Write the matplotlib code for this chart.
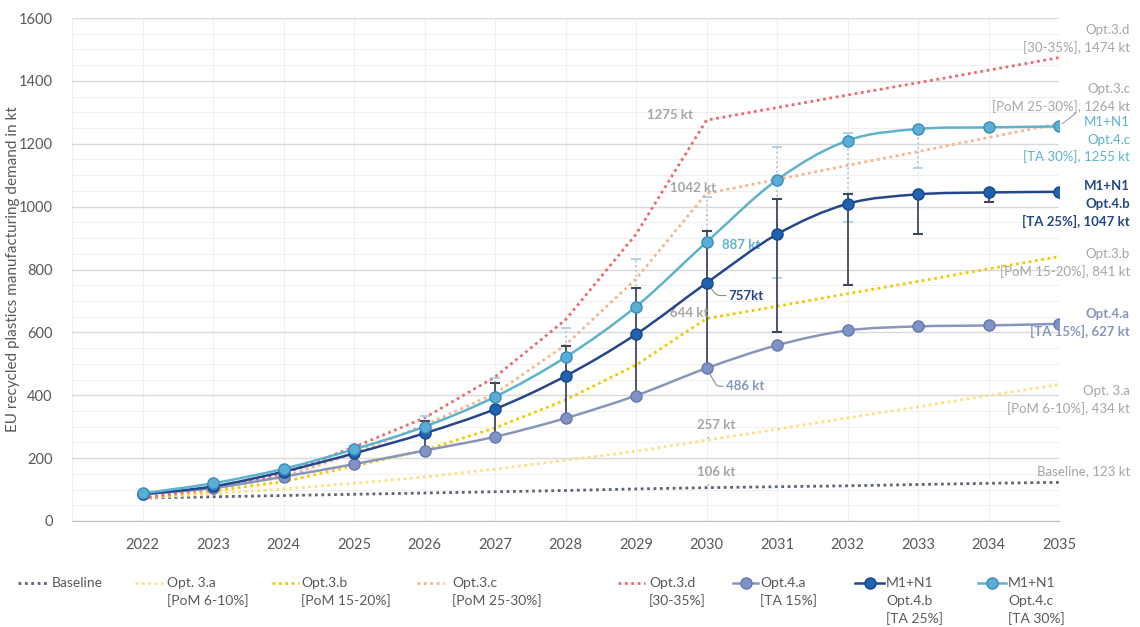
import matplotlib
matplotlib.use("Agg")
import matplotlib.pyplot as plt
from matplotlib.lines import Line2D
from matplotlib.path import Path
from matplotlib.patches import PathPatch
import numpy as np

plt.rcParams['font.family'] = ['Lato', 'DejaVu Sans']

# ---- data (kt) ----
years = [2022, 2023, 2024, 2025, 2026, 2027, 2028, 2029, 2030, 2031, 2032, 2033, 2034, 2035]
baseline = [73, 77, 81, 85, 89, 93, 97, 102, 106, 109, 112, 116, 120, 123]
opt3a = [73, 87, 102, 120, 140, 165, 193, 222, 257, 292, 328, 363, 399, 434]
opt3b = [73, 95, 125, 175, 225, 296, 385, 496, 644, 683, 723, 762, 802, 841]
opt3c = [73, 100, 140, 215, 305, 405, 560, 770, 1042, 1086, 1131, 1175, 1220, 1264]
opt3d = [73, 105, 150, 235, 328, 458, 640, 912, 1275, 1315, 1355, 1394, 1434, 1474]
opt4a = [85, 105, 141, 181, 224, 268, 327, 399, 486, 559, 606, 619, 622, 627]
opt4b = [85, 110, 157, 215, 279, 356, 461, 594, 757, 912, 1009, 1039, 1045, 1047]
opt4c = [88, 120, 166, 228, 300, 395, 521, 682, 887, 1085, 1210, 1247, 1252, 1255]

# uncertainty ranges
opt4b_low = [85, 110, 157, 215, 224, 268, 327, 399, 486, 602, 751, 913, 1014, 1047]
opt4b_high = [85, 110, 157, 215, 318, 440, 557, 742, 922, 1023, 1039, 1039, 1045, 1047]
opt4c_low = [88, 120, 166, 228, 300, 395, 460, 594, 757, 773, 952, 1122, 1252, 1255]
opt4c_high = [88, 120, 166, 240, 335, 455, 615, 833, 1031, 1190, 1234, 1247, 1252, 1255]

yticks = [0, 200, 400, 600, 800, 1000, 1200, 1400, 1600]

# ---- colours ----
C_BASE = '#5B6573'
C_3A = '#FFE080'
C_3B = '#F6C800'
C_3C = '#F7B58C'
C_3D = '#EC6A6E'
C_4A_LINE, C_4A_FACE, C_4A_EDGE = '#8797BC', '#7F93C6', '#6678AE'
C_4B_LINE, C_4B_FACE, C_4B_EDGE = '#24468A', '#1F63B0', '#17488A'
C_4C_LINE, C_4C_FACE, C_4C_EDGE = '#5DB3CB', '#5AAED6', '#3A8CBC'
GREY_TXT = '#A6A6A6'
TICK_TXT = '#595959'

W, H = 1140, 627
fig = plt.figure(figsize=(W / 100, H / 100), dpi=100)
ax = fig.add_axes([72 / W, 1 - 521 / H, (1059 - 72) / W, (521 - 18) / H])

ax.set_xlim(2021, 2035)
ax.set_ylim(0, 1600)
ax.set_yticks(yticks)
ax.set_yticks(np.arange(0, 1601, 50), minor=True)
ax.set_xticks(years)
ax.set_xticks([2021], minor=True)
ax.grid(axis='y', which='major', color='#D9D9D9', lw=1.0, zorder=0)
ax.grid(axis='y', which='minor', color='#F0F0F0', lw=0.8, zorder=0)
ax.grid(axis='x', which='both', color='#F0F0F0', lw=0.8, zorder=0)
for s in ['top', 'right', 'left']:
    ax.spines[s].set_visible(False)
ax.spines['bottom'].set_color('#BFBFBF')
ax.tick_params(axis='both', which='both', length=0, colors=TICK_TXT, labelsize=10.5)
ax.tick_params(axis='x', pad=12)
ax.tick_params(axis='y', pad=14)
ax.set_ylabel('EU recycled plastics manufacturing demand in kt', color=TICK_TXT, fontsize=11)
ax.yaxis.set_label_coords((20 - 72) / (1059 - 72), 0.5)

dot = (0, (1, 1.3))
ax.plot(years, baseline, color=C_BASE, lw=2, ls=dot, zorder=2)
ax.plot(years, opt3a, color=C_3A, lw=2, ls=dot, zorder=2)
ax.plot(years, opt3b, color=C_3B, lw=2, ls=dot, zorder=2)
ax.plot(years, opt3c, color=C_3C, lw=2, ls=dot, zorder=2)
ax.plot(years, opt3d, color=C_3D, lw=2, ls=dot, zorder=2)

# uncertainty bars
v4c = np.array(opt4c)
eb = ax.errorbar(years, opt4c, yerr=[v4c - np.array(opt4c_low), np.array(opt4c_high) - v4c],
                 fmt='none', ecolor='#A8CBE2', elinewidth=1.3, capsize=3.5, capthick=1.2, zorder=3)
eb[2][0].set_linestyle(':')
v4b = np.array(opt4b)
ax.errorbar(years, opt4b, yerr=[v4b - np.array(opt4b_low), np.array(opt4b_high) - v4b],
            fmt='none', ecolor='#3E4A5C', elinewidth=1.3, capsize=3.5, capthick=1.5, zorder=3)


def smooth_path(xs, ys):
    """Cubic Bezier path through the points (smoothed chart line)."""
    pts = np.column_stack([xs, ys]).astype(float)
    n = len(pts)
    verts = [pts[0]]
    codes = [Path.MOVETO]
    for i in range(n - 1):
        p0 = pts[i - 1] if i > 0 else pts[i]
        p1, p2 = pts[i], pts[i + 1]
        p3 = pts[i + 2] if i + 2 < n else pts[i + 1]
        c1 = p1 + (p2 - p0) / 6.0
        c2 = p2 - (p3 - p1) / 6.0
        verts += [c1, c2, p2]
        codes += [Path.CURVE4] * 3
    return Path(verts, codes)


for vals, lc, fc, ec in [(opt4a, C_4A_LINE, C_4A_FACE, C_4A_EDGE),
                         (opt4b, C_4B_LINE, C_4B_FACE, C_4B_EDGE),
                         (opt4c, C_4C_LINE, C_4C_FACE, C_4C_EDGE)]:
    ax.add_patch(PathPatch(smooth_path(years, vals), fill=False, edgecolor=lc, lw=1.8, zorder=4))
    ax.plot(years, vals, ls='none', marker='o', ms=8, mfc=fc, mec=ec, mew=1.0, zorder=5)

# ---- point labels around 2030 ----
i30 = years.index(2030)
ax.annotate(f'{opt3d[i30]} kt', (2030, opt3d[i30]), xytext=(-10, 4), textcoords='offset points',
            ha='right', va='center', color=GREY_TXT, fontsize=9.5, fontweight='bold')
ax.annotate(f'{opt3c[i30]} kt', (2030, opt3c[i30]), xytext=(-26, 4), textcoords='offset points',
            ha='left', va='center', color=GREY_TXT, fontsize=9.5, fontweight='bold')
ax.annotate(f'{opt3b[i30]} kt', (2030, opt3b[i30]), xytext=(-26, 4), textcoords='offset points',
            ha='left', va='center', color=GREY_TXT, fontsize=9.5, fontweight='bold')
ax.annotate(f'{opt4c[i30]} kt', (2030, opt4c[i30]), xytext=(11, -2), textcoords='offset points',
            ha='left', va='center', color=C_4C_LINE, fontsize=9.5, fontweight='bold')
ax.annotate(f'{opt4b[i30]}kt', (2030, opt4b[i30]), xytext=(16, -9), textcoords='offset points',
            ha='left', va='center', color=C_4B_LINE, fontsize=9.5, fontweight='bold',
            arrowprops=dict(arrowstyle='-', color='#8C8C8C', lw=0.8, shrinkA=0, shrinkB=4,
                            connectionstyle='angle,angleA=0,angleB=-50,rad=3'))
ax.annotate(f'{opt4a[i30]} kt', (2030, opt4a[i30]), xytext=(14, -13), textcoords='offset points',
            ha='left', va='center', color=C_4A_LINE, fontsize=9.5, fontweight='bold',
            arrowprops=dict(arrowstyle='-', color='#8C8C8C', lw=0.8, shrinkA=0, shrinkB=4,
                            connectionstyle='angle,angleA=0,angleB=-60,rad=3'))
ax.annotate(f'{opt3a[i30]} kt', (2030, opt3a[i30]), xytext=(-7, 11), textcoords='offset points',
            ha='left', va='center', color=GREY_TXT, fontsize=9.5, fontweight='bold',
            arrowprops=dict(arrowstyle='-', color='#8C8C8C', lw=0.8, shrinkA=3, shrinkB=2))
ax.annotate(f'{baseline[i30]} kt', (2030, baseline[i30]), xytext=(-7, 11), textcoords='offset points',
            ha='left', va='center', color=GREY_TXT, fontsize=9.5, fontweight='bold',
            arrowprops=dict(arrowstyle='-', color='#8C8C8C', lw=0.8, shrinkA=3, shrinkB=2))

# ---- end-of-line labels ----
i35 = years.index(2035)
end_labels = [
    (30, ['Opt.3.d', f'[30-35%], {opt3d[i35]} kt'], GREY_TXT, 'normal'),
    (89, ['Opt.3.c', f'[PoM 25-30%], {opt3c[i35]} kt'], GREY_TXT, 'normal'),
    (122, ['M1+N1', 'Opt.4.c', f'[TA 30%], {opt4c[i35]} kt'], C_4C_LINE, 'normal'),
    (186, ['M1+N1', 'Opt.4.b', f'[TA 25%], {opt4b[i35]} kt'], C_4B_LINE, 'bold'),
    (254, ['Opt.3.b', f'[PoM 15-20%], {opt3b[i35]} kt'], GREY_TXT, 'normal'),
    (314, ['Opt.4.a', f'[TA 15%], {opt4a[i35]} kt'], C_4A_LINE, 'bold'),
    (391, ['Opt. 3.a', f'[PoM 6-10%], {opt3a[i35]} kt'], GREY_TXT, 'normal'),
    (471, [f'Baseline, {baseline[i35]} kt'], GREY_TXT, 'normal'),
]
for ytop, lines, col, fw in end_labels:
    for k, t in enumerate(lines):
        fig.text(1130 / W, 1 - (ytop + k * 17.5) / H, t, ha='right', va='center',
                 color=col, fontsize=9.5, fontweight=fw)
# leader for Opt.3.c end label
fig.add_artist(Line2D([1062 / W, 1076 / W], [1 - 124 / H, 1 - 113 / H], color='#A0A0A0', lw=0.8))

# ---- legend (drawn in figure pixels) ----
legend_items = [
    (18, 47, 52, ['Baseline'], dict(color=C_BASE, ls=dot, lw=2)),
    (135, 163, 167, ['Opt. 3.a', '[PoM 6-10%]'], dict(color=C_3A, ls=dot, lw=2)),
    (272, 299, 301, ['Opt.3.b', '[PoM 15-20%]'], dict(color=C_3B, ls=dot, lw=2)),
    (417, 444, 452, ['Opt.3.c', '[PoM 25-30%]'], dict(color=C_3C, ls=dot, lw=2)),
    (618, 645, 649, ['Opt.3.d', '[30-35%]'], dict(color=C_3D, ls=dot, lw=2)),
    (733, 758, 760, ['Opt.4.a', '[TA 15%]'],
     dict(color=C_4A_LINE, lw=1.8, marker='o', ms=8, mfc=C_4A_FACE, mec=C_4A_EDGE, markevery=[1])),
    (855, 884, 886, ['M1+N1', 'Opt.4.b', '[TA 25%]'],
     dict(color=C_4B_LINE, lw=1.8, marker='o', ms=8, mfc=C_4B_FACE, mec=C_4B_EDGE, markevery=[1])),
    (978, 1006, 1008, ['M1+N1', 'Opt.4.c', '[TA 30%]'],
     dict(color=C_4C_LINE, lw=1.8, marker='o', ms=8, mfc=C_4C_FACE, mec=C_4C_EDGE, markevery=[1])),
]
ly = 583
for x0, x1, xt, lines, style in legend_items:
    fig.add_artist(Line2D([x0 / W, (x0 + x1) / 2 / W, x1 / W], [1 - ly / H] * 3, **style))
    for k, t in enumerate(lines):
        fig.text(xt / W, 1 - (ly + k * 18) / H, t, ha='left', va='center', color=TICK_TXT, fontsize=10)

fig.savefig('out.png', dpi=100, facecolor='white')
